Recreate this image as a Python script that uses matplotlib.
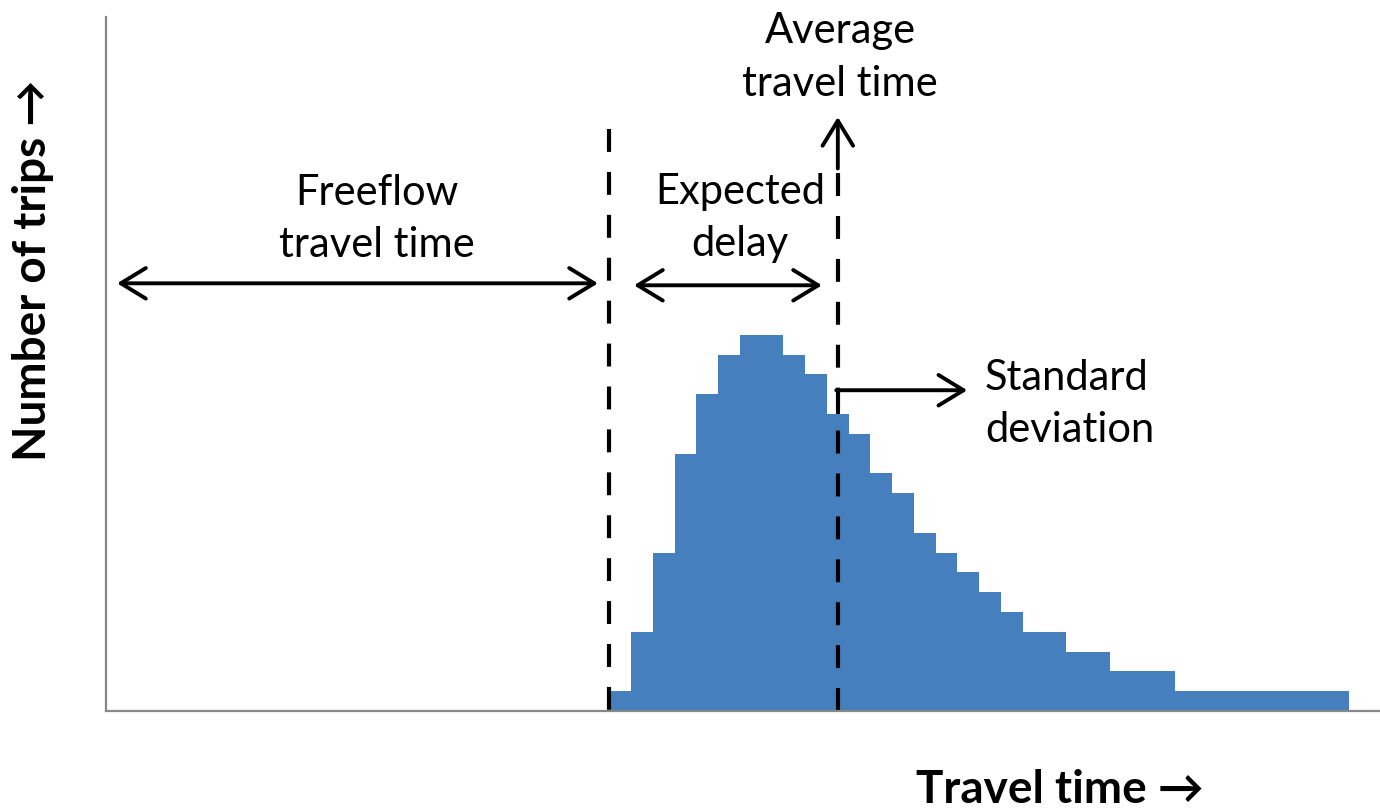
import matplotlib
matplotlib.use("Agg")
import matplotlib.pyplot as plt
import numpy as np

# ---- data ----
freeflow_time = 23.0          # start of the distribution (bin units)
bin_width = 1.0
counts = [1, 4, 8, 13, 16, 18, 19, 19, 18, 17, 15, 14, 12, 11, 9, 8, 7,
          6, 5, 4, 4, 3, 3, 2, 2, 2, 1, 1, 1, 1, 1, 1, 1, 1]
average_time = 33.5
std_arrow_end = 39.45

labels_freeflow = "Freeflow\ntravel time"
labels_delay = "Expected\ndelay"
labels_avg = "Average\ntravel time"
labels_std = "Standard\ndeviation"
xlabel = "Travel time \u2192"
ylabel = "Number of trips \u2192"

plt.rcParams['font.family'] = ['Lato', 'DejaVu Sans']

fig = plt.figure(figsize=(13.8, 8.09), dpi=100)
ax = fig.add_axes([106/1380, (809-711)/809, 1274/1380, (711-17)/809])

edges = freeflow_time + bin_width*np.arange(len(counts)+1)
ax.stairs(counts, edges, fill=True, color='#467FBD', lw=0)

ax.set_xlim(-0.15, 58.43)
ax.set_ylim(0, 35.05)
for s in ['top', 'right']:
    ax.spines[s].set_visible(False)
for s in ['left', 'bottom']:
    ax.spines[s].set_color('#888888')
    ax.spines[s].set_linewidth(1.6)
ax.set_xticks([])
ax.set_yticks([])

dash = (0, (5.5, 4.8))
ax.plot([freeflow_time, freeflow_time], [29.4, 0], color='black', lw=3, linestyle=dash)
ax.plot([average_time, average_time], [0, 27.6], color='black', lw=3, linestyle=dash)

ap = dict(arrowstyle='<->,head_length=0.9,head_width=0.55', lw=2.8, color='black',
          shrinkA=0, shrinkB=0, mutation_scale=20)
ax.annotate('', xy=(0.36, 21.6), xytext=(22.47, 21.6), arrowprops=ap)
ax.annotate('', xy=(24.13, 21.5), xytext=(32.77, 21.5), arrowprops=ap)

ap1 = dict(arrowstyle='->,head_length=0.9,head_width=0.55', lw=2.8, color='black',
           shrinkA=0, shrinkB=0, mutation_scale=20)
ax.annotate('', xy=(average_time, 30.0), xytext=(average_time, 27.4), arrowprops=ap1)

# std arrow: up then right
ax.plot([average_time, average_time], [15.0, 16.2], color='black', lw=2.8, solid_capstyle='butt')
ax.annotate('', xy=(std_arrow_end, 16.2), xytext=(average_time - 0.07, 16.2), arrowprops=ap1)

fs = 30
ls = 1.47
ax.text(12.3, 24.85, labels_freeflow, ha='center', va='center', fontsize=fs, linespacing=ls)
ax.text(29.0, 24.9, labels_delay, ha='center', va='center', fontsize=fs, linespacing=ls)
ax.text(33.6, 33.0, labels_avg, ha='center', va='center', fontsize=fs, linespacing=ls, clip_on=False)
ax.text(40.26, 15.5, labels_std, ha='left', va='center', fontsize=fs, linespacing=ls)

fig.text(1060/1380, 1 - 790/809, xlabel, ha='center', va='center', fontsize=33, fontweight='bold')
fig.text(33/1380, 1 - 270/809, ylabel, ha='center', va='center', fontsize=33, fontweight='bold', rotation=90)

fig.savefig('out.png', dpi=100)
